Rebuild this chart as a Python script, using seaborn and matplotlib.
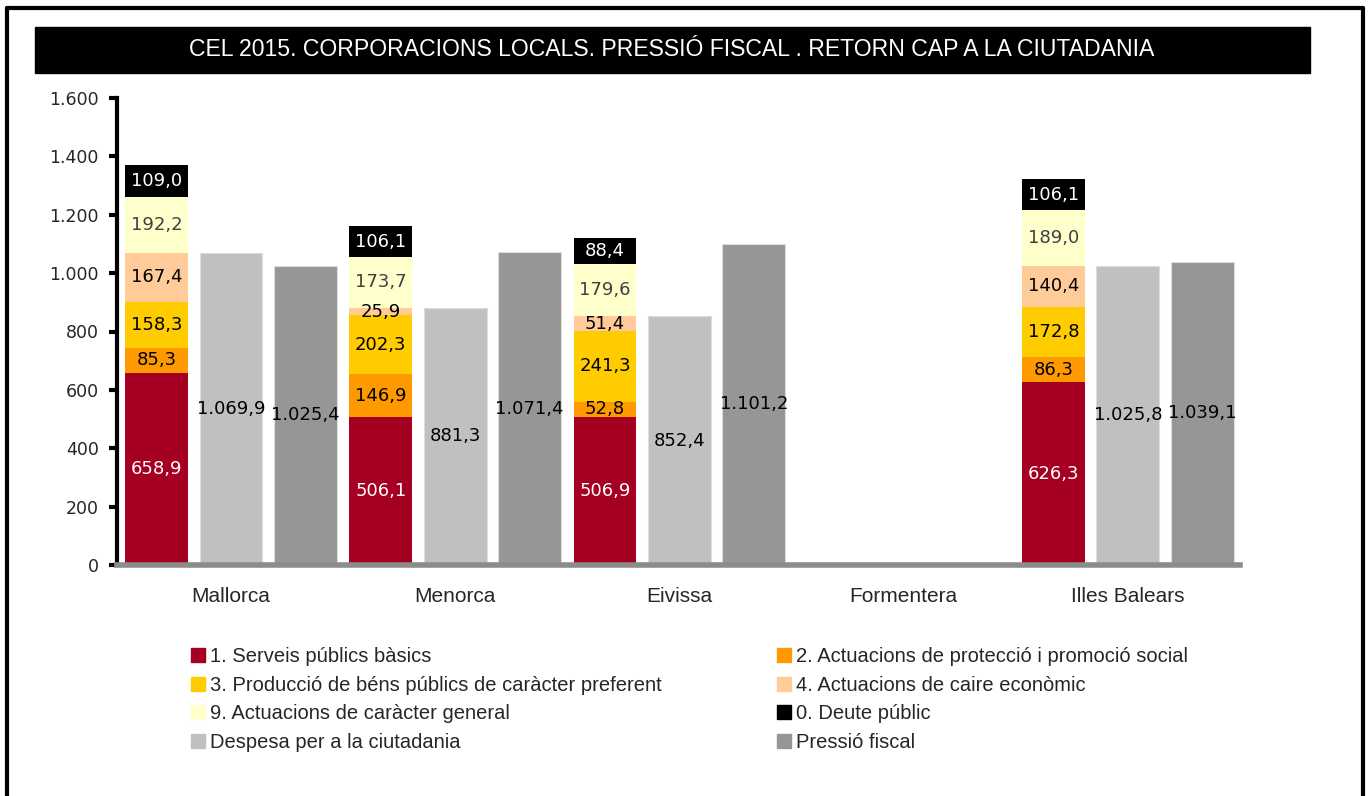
import numpy as np
import matplotlib.pyplot as plt
from matplotlib.lines import Line2D
from matplotlib.patches import Rectangle, Patch
from matplotlib.ticker import FuncFormatter
import seaborn as sns

categories = ['Mallorca', 'Menorca', 'Eivissa', 'Formentera', 'Illes Balears']
serveis = [658.9, 506.1, 506.9, np.nan, 626.3]
proteccio = [85.3, 146.9, 52.8, np.nan, 86.3]
produccio = [158.3, 202.3, 241.3, np.nan, 172.8]
economic = [167.4, 25.9, 51.4, np.nan, 140.4]
general = [192.2, 173.7, 179.6, np.nan, 189.0]
deute = [109.0, 106.1, 88.4, np.nan, 106.1]
despesa = [1069.9, 881.3, 852.4, np.nan, 1025.8]
pressio = [1025.4, 1071.4, 1101.2, np.nan, 1039.1]

stack_names = ['1. Serveis públics bàsics',
               '2. Actuacions de protecció i promoció social',
               '3. Producció de béns públics de caràcter preferent',
               '4. Actuacions de caire econòmic',
               '9. Actuacions de caràcter general',
               '0. Deute públic']
stack_vals = [serveis, proteccio, produccio, economic, general, deute]
stack_cols = ['#A50021', '#FF9900', '#FFCC00', '#FFCC99', '#FFFFCC', '#000000']
stack_txt = ['white', 'black', 'black', 'black', '#404040', 'white']

sns.set_theme(style='white')
narrow = ['Liberation Sans Narrow', 'Liberation Sans', 'DejaVu Sans']
plt.rcParams['font.family'] = ['DejaVu Sans']


def cat_fmt(v, dec=1):
    s = f"{v:,.{dec}f}"
    return s.replace(',', 'X').replace('.', ',').replace('X', '.')


fig = plt.figure(figsize=(13.68, 7.96), dpi=100)
ax = fig.add_axes([117 / 1368, 1 - 565 / 796, (1240 - 117) / 1368, (565 - 98) / 796])

x = np.arange(len(categories))
w = 0.28
off = 0.332

bottom = np.zeros(len(categories))
for vals, col, tcol in zip(stack_vals, stack_cols, stack_txt):
    v = np.array(vals, dtype=float)
    ax.bar(x - off, np.nan_to_num(v), w, bottom=bottom, color=col, linewidth=0)
    for xi, b, h in zip(x, bottom, v):
        if not np.isnan(h):
            ax.text(xi - off, b + h / 2, cat_fmt(h), ha='center', va='center',
                    color=tcol, fontsize=13)
    bottom = bottom + np.nan_to_num(v)

for vals, col, dx in [(despesa, '#C0C0C0', 0), (pressio, '#969696', off)]:
    v = np.array(vals, dtype=float)
    ax.bar(x + dx, np.nan_to_num(v), w, color=col, edgecolor='#DDDDDD', linewidth=0.8)
    for xi, h in zip(x, v):
        if not np.isnan(h):
            ax.text(xi + dx, h / 2, cat_fmt(h), ha='center', va='center',
                    color='black', fontsize=13)

ax.set_xlim(-0.508, 4.5)
ax.set_ylim(0, 1600)
ax.set_yticks(range(0, 1601, 200))
ax.yaxis.set_major_formatter(FuncFormatter(lambda v, p: cat_fmt(v, 0)))
ax.set_xticks(x)
ax.set_xticklabels(categories, family=narrow, fontsize=15)
ax.tick_params(axis='y', which='major', direction='out', length=6, width=3,
               color='black', labelsize=12.5, pad=7, left=True)
ax.tick_params(axis='x', length=0, pad=16)
for s in ['top', 'right']:
    ax.spines[s].set_visible(False)
ax.spines['left'].set_color('black')
ax.spines['left'].set_linewidth(3)
ax.spines['bottom'].set_color('#8C8C8C')
ax.spines['bottom'].set_linewidth(4)
ax.grid(False)

# title bar
fig.add_artist(Rectangle((35 / 1368, 1 - 73 / 796), (1310 - 35) / 1368, 46 / 796,
                         transform=fig.transFigure, color='black', zorder=0))
fig.text(672 / 1368, 1 - 50 / 796,
         'CEL 2015. CORPORACIONS LOCALS. PRESSIÓ FISCAL . RETORN CAP A LA CIUTADANIA',
         ha='center', va='center', color='white', fontsize=16.6, family=narrow)

# outer frame
fig.add_artist(Line2D([7 / 1368, 7 / 1368], [0, 1 - 8 / 796], transform=fig.transFigure,
                      color='black', lw=3))
fig.add_artist(Line2D([7 / 1368, 1363 / 1368], [1 - 8 / 796, 1 - 8 / 796],
                      transform=fig.transFigure, color='black', lw=3))
fig.add_artist(Line2D([1363 / 1368, 1363 / 1368], [0, 1 - 8 / 796], transform=fig.transFigure,
                      color='black', lw=3))

names = stack_names + ['Despesa per a la ciutadania', 'Pressió fiscal']
cols = stack_cols + ['#C0C0C0', '#969696']
handles = [Patch(color=c, label=n) for n, c in zip(names, cols)]
left_h = [handles[i] for i in (0, 2, 4, 6)]
right_h = [handles[i] for i in (1, 3, 5, 7)]
leg_kw = dict(frameon=False, loc='upper left', borderpad=0, borderaxespad=0,
              handlelength=0.7, handleheight=0.7, handletextpad=0.25,
              labelspacing=0.48, prop={'family': narrow, 'size': 14.5})
l1 = fig.legend(handles=left_h, bbox_to_anchor=(191 / 1368, 1 - 647 / 796), **leg_kw)
l2 = fig.legend(handles=right_h, bbox_to_anchor=(777 / 1368, 1 - 647 / 796), **leg_kw)

fig.savefig('out.png', dpi=100, facecolor='white')
